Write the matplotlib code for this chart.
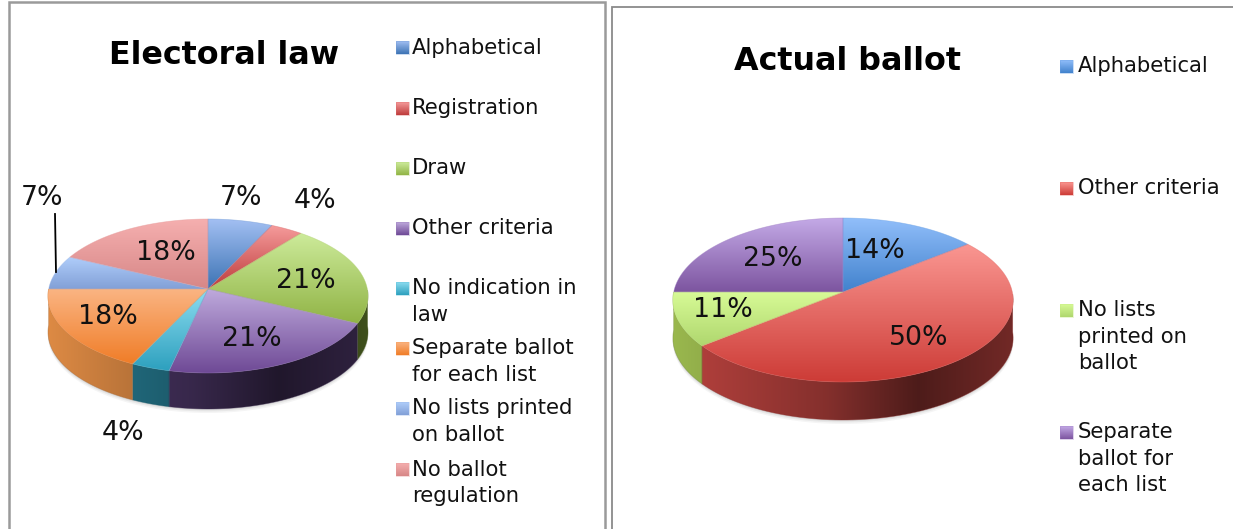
import numpy as np
import matplotlib
matplotlib.use("Agg")
import matplotlib.pyplot as plt
from matplotlib.patches import Polygon, Rectangle

# Datos de los dos graficos (numero de paises, el % se calcula)
law_title = "Electoral law"
law_categories = ["Alphabetical", "Registration", "Draw", "Other criteria",
                  "No indication in\nlaw", "Separate ballot\nfor each list",
                  "No lists printed\non ballot", "No ballot\nregulation"]
law_values = [2, 1, 6, 6, 1, 5, 2, 5]

ballot_title = "Actual ballot"
ballot_categories = ["Alphabetical", "Other criteria", "No lists\nprinted on\nballot",
                     "Separate\nballot for\neach list"]
ballot_values = [4, 14, 3, 7]

# colores (claro arriba, oscuro abajo, pared lateral)
law_colors = [
    ("#a2bff2", "#3c73b4", "#2a5a8e"),
    ("#f59b9b", "#be3c3c", "#90302e"),
    ("#cdeb9b", "#91b446", "#66812e"),
    ("#bea9dc", "#6f4a96", "#4d3768"),
    ("#8cdcf0", "#2da0be", "#267a90"),
    ("#fab482", "#f07d28", "#dd8a44"),
    ("#afcdfa", "#82a0d7", "#5c7ba8"),
    ("#f5afaf", "#d78787", "#a86868"),
]
ballot_colors = [
    ("#91befa", "#4182cd", "#2f649c"),
    ("#fa9691", "#cd3c37", "#b8423e"),
    ("#d7fa96", "#afd76e", "#9ab84e"),
    ("#c3a9e6", "#7d55a0", "#5c3f78"),
]


def rgb(c):
    return np.array(matplotlib.colors.to_rgb(c))


def project(theta, cx, cy, b, a, k):
    # circulo unidad con perspectiva, theta en sentido horario desde arriba
    x = np.sin(theta)
    y = np.cos(theta)
    return cx + b * x / (1 + k * y), cy - a * y / (1 + k * y)


def gradient_fill(ax, pts, top, bottom, horizontal=None, z=2):
    pts = np.asarray(pts)
    x0, y0 = pts.min(axis=0)
    x1, y1 = pts.max(axis=0)
    if horizontal is None:
        t = np.linspace(0, 1, 64)[:, None, None]
        arr = rgb(top)[None, None, :] * (1 - t) + rgb(bottom)[None, None, :] * t
    else:
        xs = np.linspace(x0, x1, 128)
        arr = np.clip(horizontal(xs)[:, None] * rgb(top)[None, :], 0, 1)[None, :, :]
    im = ax.imshow(arr, extent=(x0, x1, y1, y0), aspect="auto", zorder=z, interpolation="bilinear")
    clip = Polygon(pts, closed=True, transform=ax.transData, fc="none", ec="none")
    ax.add_patch(clip)
    im.set_clip_path(clip)
    # borde fino para suavizar el recorte
    mid = (rgb(top) + rgb(bottom)) / 2 if horizontal is None else rgb(top) * 0.75
    ax.add_patch(Polygon(pts, closed=True, fc="none", ec=mid, lw=0.5, alpha=0.5, zorder=z + 0.1))


def pie3d(ax, values, colors, cx, cy, rx, up, down, depth):
    values = np.array(values, dtype=float)
    k = (down - up) / (down + up)
    a = up * (1 + k)
    b = rx * 0.996
    edges = np.concatenate([[0], np.cumsum(values) / values.sum() * 2 * np.pi])

    def wall_shade(xs):
        t = (xs - (cx - rx)) / (2 * rx)
        return np.interp(t, [0, 0.45, 0.72, 1], [1.0, 0.72, 0.42, 0.62])

    # sombra suave
    th = np.linspace(0, 2 * np.pi, 240)
    sx, sy = project(th, cx, cy, b, a, k)
    for off, al in [(4.0, 0.06), (2.5, 0.08), (1.2, 0.1)]:
        ax.fill(sx, sy + depth + off, color="#555555", alpha=al, lw=0, zorder=1)

    for i in range(len(values)):
        th = np.linspace(edges[i], edges[i + 1], 100)
        # pared lateral, solo la parte de delante
        front = th[np.cos(th) <= 0]
        if len(front) > 1:
            fx, fy = project(front, cx, cy, b, a, k)
            pts = np.column_stack([np.r_[fx, fx[::-1]], np.r_[fy, fy[::-1] + depth]])
            gradient_fill(ax, pts, colors[i][2], None, horizontal=wall_shade, z=2)
        # cara superior
        tx, ty = project(th, cx, cy, b, a, k)
        pts = np.column_stack([np.r_[cx, tx], np.r_[cy, ty]])
        gradient_fill(ax, pts, colors[i][0], colors[i][1], z=3)


def legend_item(ax, x_key, x_text, y, label, colors):
    gradient_fill(ax, [(x_key, y - 6), (x_key + 13, y - 6), (x_key + 13, y + 7), (x_key, y + 7)],
                  colors[0], colors[1], z=3)
    ax.text(x_text, y - 9.5, label, fontsize=FS_LEG, color="#111111", va="top", ha="left",
            linespacing=1.38, zorder=5)


FS_LEG = 15.2
FS_PCT = 19.3
FS_TITLE = 22.9

plt.rcParams["font.family"] = "DejaVu Sans"
fig = plt.figure(figsize=(12.33, 5.29), dpi=100)
ax = fig.add_axes([0, 0, 1, 1])
ax.set_xlim(0, 1233)
ax.set_ylim(529, 0)
ax.autoscale(False)
ax.axis("off")

# marcos
ax.add_patch(Rectangle((9, 2), 595.5, 540, fc="white", ec="#9a9a9a", lw=1.8, zorder=0))
ax.add_patch(Rectangle((611.5, 7), 640, 540, fc="white", ec="#8a8a8a", lw=1.3, zorder=0))

# grafico izquierdo
pie3d(ax, law_values, law_colors, 208, 289, 160, 70, 84, 36)
law_pct = [f"{round(v / sum(law_values) * 100)}%" for v in law_values]
law_pos = [(241, 198), (315, 201), (306, 281), (252, 339), (123, 433), (108, 317), (42, 198), (166, 253)]
for lab, (x, y) in zip(law_pct, law_pos):
    ax.text(x, y, lab, fontsize=FS_PCT, ha="center", va="center", color="#111111", zorder=6)
ax.plot([55, 56], [214, 272], color="black", lw=1.3, zorder=6)
ax.text(224.5, 56, law_title, fontsize=FS_TITLE, fontweight="bold", ha="center", va="center", zorder=6)
law_rows = [47, 108, 168, 228, 288, 348, 408, 469]
for y, lab, col in zip(law_rows, law_categories, law_colors):
    legend_item(ax, 396, 412, y, lab, col)

# grafico derecho
pie3d(ax, ballot_values, ballot_colors, 843, 292, 170, 74, 90, 38)
ballot_pct = [f"{round(v / sum(ballot_values) * 100)}%" for v in ballot_values]
ballot_pos = [(875, 251), (919, 338), (723, 310), (773, 259)]
for lab, (x, y) in zip(ballot_pct, ballot_pos):
    ax.text(x, y, lab, fontsize=FS_PCT, ha="center", va="center", color="#111111", zorder=6)
ax.text(848, 61.5, ballot_title, fontsize=FS_TITLE, fontweight="bold", ha="center", va="center", zorder=6)
ballot_rows = [66, 188, 310, 432]
for y, lab, col in zip(ballot_rows, ballot_categories, ballot_colors):
    legend_item(ax, 1060, 1078, y, lab, col)

ax.set_xlim(0, 1233)
ax.set_ylim(529, 0)
fig.savefig("out.png", dpi=100, facecolor="white")
